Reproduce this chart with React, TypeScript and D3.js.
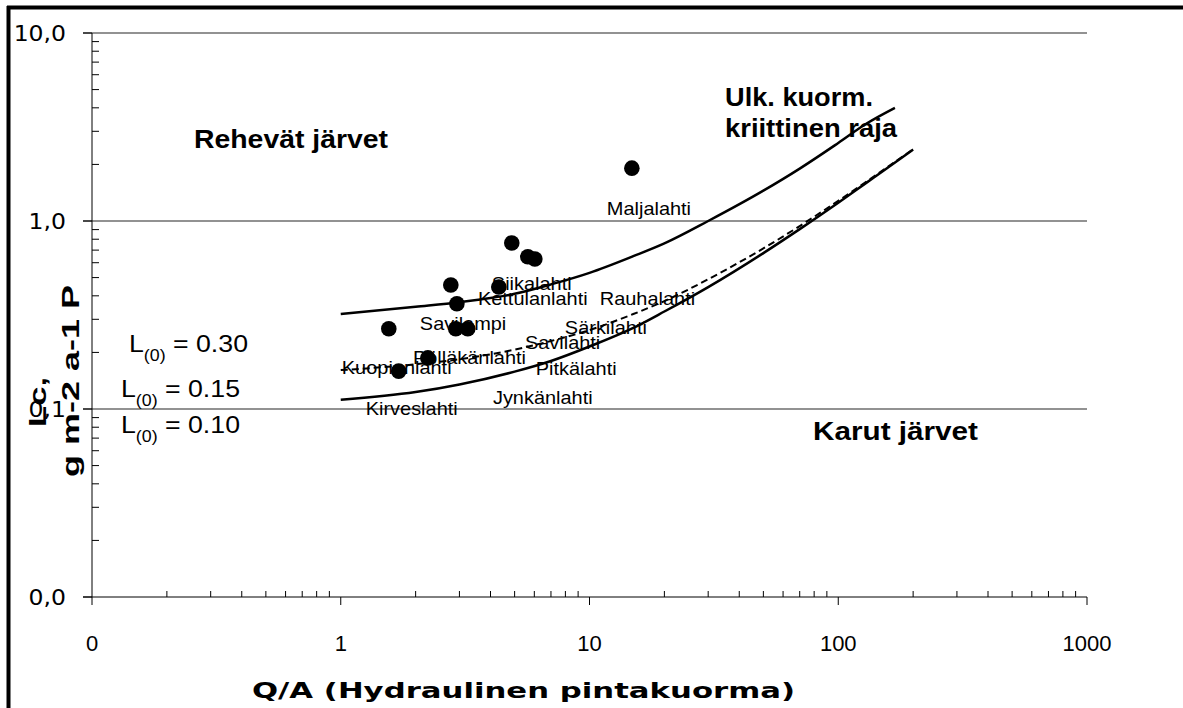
import React from 'react';
import * as d3 from 'd3';

// ---- axis ticks ----
const qsTicks = [0.1, 1, 10, 100, 1000];
const qsTickLabels = ['0', '1', '10', '100', '1000'];
const lcTicks = [0.01, 0.1, 1, 10];
const lcTickLabels = ['0,0', '0,1', '1,0', '10,0'];

// ---- observed lakes (points) ----
const pointQs = [14.8, 4.87, 5.65, 6.03, 2.77, 4.32, 2.93, 1.56, 2.9, 3.24, 2.24, 1.71];
const pointLc = [1.91, 0.764, 0.645, 0.628, 0.457, 0.446, 0.363, 0.267, 0.267, 0.267, 0.187, 0.159];

// ---- lake name labels (as placed in the figure) ----
const labelNames = ['Maljalahti', 'Siikalahti', 'Kettulanlahti', 'Rauhalahti', 'Savilampi', 'Särkilahti', 'Savilahti', 'Pölläkänlahti', 'Kuopionlahti', 'Pitkälahti', 'Jynkänlahti', 'Kirveslahti'];
const labelQs = [11.74, 4.05, 3.56, 11.0, 2.08, 7.96, 5.5, 1.95, 1.01, 6.08, 4.09, 1.26];
const labelLc = [1.17, 0.468, 0.389, 0.389, 0.287, 0.273, 0.227, 0.189, 0.167, 0.165, 0.116, 0.101];

// ---- critical loading curves (Vollenweider) ----
const upperQs = [1, 2, 3, 5, 7, 10, 15, 20, 30, 50, 70, 100, 130, 169];
const upperLc = [0.32, 0.35, 0.37, 0.41, 0.46, 0.53, 0.65, 0.76, 1.0, 1.45, 1.9, 2.6, 3.3, 4.0];
const midQs = [1, 2, 3, 5, 7, 10, 15, 20, 30, 50, 70, 100, 130, 150, 200];
const midLc = [0.161, 0.173, 0.184, 0.207, 0.23, 0.263, 0.32, 0.375, 0.49, 0.715, 0.94, 1.28, 1.62, 1.85, 2.41];
const lowerQs = [1, 2, 3, 5, 7, 10, 15, 20, 30, 50, 70, 100, 130, 150, 200];
const lowerLc = [0.112, 0.123, 0.135, 0.158, 0.18, 0.215, 0.27, 0.33, 0.445, 0.675, 0.905, 1.25, 1.6, 1.83, 2.4];

const l0Values = ['0.30', '0.15', '0.10'];

const W = 1183;
const H = 708;
const X0 = 92, X1 = 1087, Y0 = 33, Y1 = 597;

const x = d3.scaleLog().domain([0.1, 1000]).range([X0, X1]);
const y = d3.scaleLog().domain([0.01, 10]).range([Y1, Y0]);

const line = d3
  .line<[number, number]>()
  .x((d) => x(d[0]))
  .y((d) => y(d[1]))
  .curve(d3.curveMonotoneX);

const zip = (a: number[], b: number[]) => a.map((v, i) => [v, b[i]] as [number, number]);

const ARIAL = 'Liberation Sans, Arial, sans-serif';
const VERD = 'DejaVu Sans, Verdana, sans-serif';

export default function App() {
  const minor: number[] = [];
  [0.1, 1, 10, 100].forEach((d) => {
    for (let k = 2; k <= 9; k++) minor.push(d * k);
  });
  const minorY: number[] = [];
  [0.01, 0.1, 1].forEach((d) => {
    for (let k = 2; k <= 9; k++) minorY.push(d * k);
  });

  const l0Base = [352, 397, 433];
  const l0X = [129, 121, 121];

  return (
    <svg
      width={W}
      height={H}
      style={{ position: 'absolute', left: 0, top: 0, background: '#fff' }}
    >
      <rect x={0} y={0} width={W} height={H} fill="#fff" />
      {/* outer frame */}
      <line x1={8.5} y1={6} x2={8.5} y2={H} stroke="#000" strokeWidth={4} />
      <line x1={7} y1={7.5} x2={W} y2={7.5} stroke="#000" strokeWidth={4} />

      {/* gridlines */}
      {[0.1, 1, 10].map((t) => (
        <line key={t} x1={83} x2={X1} y1={y(t)} y2={y(t)} stroke="#6e6e6e" strokeWidth={1.3} />
      ))}

      {/* y axis */}
      <line x1={X0} x2={X0} y1={Y0} y2={Y1} stroke="#000" strokeWidth={1} />
      {lcTicks.map((t) => (
        <line key={'ym' + t} x1={83} x2={X0} y1={y(t)} y2={y(t)} stroke="#000" strokeWidth={1} />
      ))}
      {minorY.map((t) => (
        <line key={'yn' + t} x1={X0} x2={X0 + 7} y1={y(t)} y2={y(t)} stroke="#000" strokeWidth={1} />
      ))}
      {lcTickLabels.map((lab, i) => (
        <text
          key={'yl' + lab}
          transform={`translate(66,${y(lcTicks[i]) + 8}) scale(1.12,1)`}
          textAnchor="end"
          fontFamily={VERD}
          fontSize={21}
        >
          {lab}
        </text>
      ))}

      {/* x axis */}
      <line x1={83} x2={X1} y1={Y1} y2={Y1} stroke="#000" strokeWidth={1} />
      {qsTicks.map((t) => (
        <line key={'xm' + t} x1={x(t)} x2={x(t)} y1={Y1} y2={Y1 + 8} stroke="#000" strokeWidth={1} />
      ))}
      {minor.map((t) => (
        <line key={'xn' + t} x1={x(t)} x2={x(t)} y1={Y1 - 6} y2={Y1} stroke="#000" strokeWidth={1} />
      ))}
      {qsTickLabels.map((lab, i) => (
        <text key={'xl' + lab} x={x(qsTicks[i])} y={Y1 + 54} textAnchor="middle" fontFamily={ARIAL} fontSize={22}>
          {lab}
        </text>
      ))}

      {/* axis titles */}
      <text
        x={252}
        y={698}
        textLength={543}
        lengthAdjust="spacingAndGlyphs"
        fontFamily={VERD}
        fontWeight="bold"
        fontSize={22}
      >
        Q/A (Hydraulinen pintakuorma)
      </text>
      <text
        transform="translate(46,427) rotate(-90)"
        textLength={50}
        lengthAdjust="spacingAndGlyphs"
        fontFamily={ARIAL}
        fontWeight="bold"
        fontSize={23}
      >
        Lc,
      </text>
      <text
        transform="translate(79,477) rotate(-90)"
        textLength={192}
        lengthAdjust="spacingAndGlyphs"
        fontFamily={ARIAL}
        fontWeight="bold"
        fontSize={23}
      >
        g m-2 a-1 P
      </text>

      {/* curves */}
      <path d={line(zip(upperQs, upperLc)) || ''} fill="none" stroke="#000" strokeWidth={2.5} />
      <path d={line(zip(lowerQs, lowerLc)) || ''} fill="none" stroke="#000" strokeWidth={2.5} />
      <path
        d={line(zip(midQs, midLc)) || ''}
        fill="none"
        stroke="#000"
        strokeWidth={2}
        strokeDasharray="7,4"
      />

      {/* lake labels */}
      {labelNames.map((n, i) => (
        <text
          key={n}
          transform={`translate(${x(labelQs[i])},${y(labelLc[i]) + 7}) scale(1.05,1)`}
          fontFamily={ARIAL}
          fontSize={19}
        >
          {n}
        </text>
      ))}

      {/* points */}
      {pointQs.map((q, i) => (
        <circle key={i} cx={x(q)} cy={y(pointLc[i])} r={7.8} fill="#000" />
      ))}

      {/* L(0) legend */}
      {l0Values.map((v, i) => (
        <text
          key={v}
          x={l0X[i]}
          y={l0Base[i]}
          textLength={119}
          lengthAdjust="spacingAndGlyphs"
          fontFamily={ARIAL}
          fontSize={24}
        >
          L
          <tspan fontSize={16} dy={9}>
            (0)
          </tspan>
          <tspan dy={-9}> = {v}</tspan>
        </text>
      ))}

      {/* region annotations */}
      <text x={194} y={148} textLength={194} lengthAdjust="spacingAndGlyphs" fontFamily={ARIAL} fontWeight="bold" fontSize={26}>
        Rehevät järvet
      </text>
      <text x={725} y={106} textLength={148} lengthAdjust="spacingAndGlyphs" fontFamily={ARIAL} fontWeight="bold" fontSize={26}>
        Ulk. kuorm.
      </text>
      <text x={725} y={137} textLength={172} lengthAdjust="spacingAndGlyphs" fontFamily={ARIAL} fontWeight="bold" fontSize={26}>
        kriittinen raja
      </text>
      <text x={813} y={440} textLength={165} lengthAdjust="spacingAndGlyphs" fontFamily={ARIAL} fontWeight="bold" fontSize={26}>
        Karut järvet
      </text>
    </svg>
  );
}
